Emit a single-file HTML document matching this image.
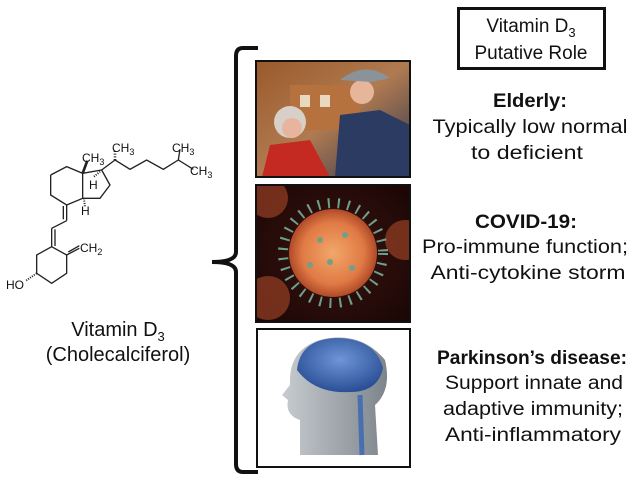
<!DOCTYPE html>
<html><head><meta charset="utf-8"><style>
html,body{margin:0;padding:0;background:#fff;}
svg{display:block;}
text{font-family:"Liberation Sans",sans-serif;fill:#111;}
</style></head><body>
<svg width="639" height="484" viewBox="0 0 639 484" xmlns="http://www.w3.org/2000/svg">
<defs>
<radialGradient id="vir" cx="50%" cy="50%" r="50%"><stop offset="0" stop-color="#f2a76a"/><stop offset="0.7" stop-color="#e07a45"/><stop offset="1" stop-color="#b04a28"/></radialGradient>
<radialGradient id="bg2" cx="50%" cy="50%" r="70%"><stop offset="0" stop-color="#3a1410"/><stop offset="1" stop-color="#1a0605"/></radialGradient>
<linearGradient id="p1" x1="0" y1="0" x2="1" y2="1"><stop offset="0" stop-color="#9a5a2a"/><stop offset="0.5" stop-color="#b07a50"/><stop offset="1" stop-color="#2b3550"/></linearGradient>
<radialGradient id="brain" cx="50%" cy="40%" r="60%"><stop offset="0" stop-color="#6f96d8"/><stop offset="1" stop-color="#2a4f96"/></radialGradient>
<linearGradient id="head" x1="0" y1="0" x2="1" y2="0"><stop offset="0" stop-color="#c8ccd0"/><stop offset="1" stop-color="#7d858c"/></linearGradient>
<clipPath id="c1"><rect x="256" y="61" width="154" height="116"/></clipPath>
<clipPath id="c2"><rect x="256" y="185" width="154" height="137"/></clipPath>
</defs>

<!-- Molecule -->
<g transform="translate(0,120) scale(0.3333)" stroke="#222" stroke-width="4" fill="none">
<polyline points="152,165 200,140 248,160 248,235 200,255 152,225 152,165"/>
<polyline points="248,160 305,150 330,195 300,235 248,235"/>
<line x1="248" y1="160" x2="262" y2="122" stroke-width="8"/>
<line x1="305" y1="150" x2="345" y2="120"/>
<polyline points="345,120 390,148 440,120 490,148 535,120 580,148"/>
<line x1="535" y1="120" x2="540" y2="88"/>
<line x1="345" y1="120" x2="345" y2="90" stroke-dasharray="3,5" stroke-width="8"/>
<line x1="282" y1="170" x2="300" y2="155" stroke-dasharray="3,4" stroke-width="6"/>
<line x1="252" y1="235" x2="255" y2="262" stroke-dasharray="3,4" stroke-width="6"/>
<line x1="200" y1="255" x2="200" y2="302"/>
<line x1="190" y1="258" x2="190" y2="298"/>
<line x1="200" y1="302" x2="155" y2="325"/>
<line x1="155" y1="325" x2="155" y2="380"/>
<line x1="165" y1="328" x2="165" y2="378"/>
<polyline points="155,380 200,405 200,460 155,490 110,460 110,405 155,380"/>
<line x1="200" y1="405" x2="238" y2="385"/>
<line x1="205" y1="396" x2="238" y2="377"/>
<line x1="110" y1="460" x2="78" y2="482" stroke-dasharray="3,4" stroke-width="6"/>
</g>
<g font-size="12">
<text x="82" y="162">CH<tspan font-size="9" dy="3">3</tspan></text>
<text x="112" y="152">CH<tspan font-size="9" dy="3">3</tspan></text>
<text x="172" y="152">CH<tspan font-size="9" dy="3">3</tspan></text>
<text x="190" y="175">CH<tspan font-size="9" dy="3">3</tspan></text>
<text x="89" y="189">H</text>
<text x="81" y="215">H</text>
<text x="80" y="252">CH<tspan font-size="9" dy="3">2</tspan></text>
<text x="6" y="289">HO</text>
</g>
<text x="118" y="336" font-size="20" text-anchor="middle">Vitamin D<tspan font-size="13" dy="5">3</tspan></text>
<text x="118" y="361" font-size="20" text-anchor="middle">(Cholecalciferol)</text>

<!-- Brace -->
<path d="M258,48 L243,48 Q236,48 236,56 L236,252 Q236,262 212,262 Q236,262 236,272 L236,464 Q236,472 243,472 L258,472" stroke="#111" stroke-width="4" fill="none"/>

<!-- Photo 1 -->
<g clip-path="url(#c1)">
<rect x="256" y="61" width="154" height="116" fill="url(#p1)"/>
<rect x="290" y="85" width="70" height="45" fill="#b5713e"/>
<rect x="300" y="95" width="10" height="12" fill="#e8d8c0"/>
<rect x="320" y="95" width="10" height="12" fill="#e8d8c0"/>
<circle cx="290" cy="122" r="16" fill="#d8cfc8"/>
<circle cx="292" cy="128" r="10" fill="#e7b59d"/>
<path d="M262,177 L270,145 L310,140 L330,177 Z" fill="#c42a22"/>
<path d="M335,177 L340,115 L380,110 L410,125 L410,177 Z" fill="#2c3b62"/>
<circle cx="362" cy="92" r="12" fill="#e6b59a"/>
<path d="M340,80 Q365,60 390,78 L372,82 Z" fill="#8a929a"/>
</g>
<rect x="256" y="61" width="154" height="116" fill="none" stroke="#111" stroke-width="2"/>

<!-- Photo 2 -->
<g clip-path="url(#c2)">
<rect x="256" y="185" width="154" height="137" fill="url(#bg2)"/>
<circle cx="268" cy="198" r="20" fill="#8a3a22" opacity="0.8"/>
<circle cx="405" cy="240" r="20" fill="#8a3a22" opacity="0.8"/>
<circle cx="268" cy="298" r="22" fill="#8a3a22" opacity="0.8"/>
<circle cx="333" cy="253" r="50" fill="none" stroke="#6fa08a" stroke-dasharray="2,8" stroke-width="10"/>
<circle cx="333" cy="253" r="44" fill="url(#vir)"/>
<g fill="#6fa08a"><circle cx="320" cy="240" r="3"/><circle cx="345" cy="235" r="3"/><circle cx="330" cy="262" r="3"/><circle cx="352" cy="268" r="3"/><circle cx="310" cy="265" r="3"/></g>
</g>
<rect x="256" y="185" width="154" height="137" fill="none" stroke="#111" stroke-width="2"/>

<!-- Photo 3 -->
<rect x="257" y="329" width="153" height="138" fill="#fff" stroke="#111" stroke-width="2"/>
<path d="M300,455 L300,420 Q285,415 288,400 L282,395 L290,385 Q288,350 320,340 Q360,330 385,360 Q392,390 375,405 L378,455 Z" fill="url(#head)"/>
<path d="M297,370 Q300,340 335,338 Q375,338 383,368 Q378,392 350,392 Q315,394 297,370 Z" fill="url(#brain)"/>
<path d="M360,395 L362,455" stroke="#4a6fb0" stroke-width="5"/>

<!-- Title box -->
<rect x="458.5" y="8.5" width="146" height="60" fill="none" stroke="#111" stroke-width="3"/>
<text x="531" y="32" font-size="19" text-anchor="middle">Vitamin D<tspan font-size="13" dy="5">3</tspan></text>
<text x="531" y="59" font-size="19" text-anchor="middle">Putative Role</text>

<g font-size="19" text-anchor="middle">
<text x="530" y="107" font-weight="bold" textLength="74" lengthAdjust="spacingAndGlyphs">Elderly:</text>
<text x="530" y="133" textLength="195" lengthAdjust="spacingAndGlyphs">Typically low normal</text>
<text x="527" y="159" textLength="112" lengthAdjust="spacingAndGlyphs">to deficient</text>
<text x="526" y="228" font-weight="bold" textLength="102" lengthAdjust="spacingAndGlyphs">COVID-19:</text>
<text x="525" y="253" textLength="206" lengthAdjust="spacingAndGlyphs">Pro-immune function;</text>
<text x="528" y="279" textLength="195" lengthAdjust="spacingAndGlyphs">Anti-cytokine storm</text>
<text x="532" y="364" font-weight="bold" textLength="190" lengthAdjust="spacingAndGlyphs">Parkinson’s disease:</text>
<text x="534" y="389" textLength="178" lengthAdjust="spacingAndGlyphs">Support innate and</text>
<text x="533" y="415" textLength="180" lengthAdjust="spacingAndGlyphs">adaptive immunity;</text>
<text x="533" y="441" textLength="176" lengthAdjust="spacingAndGlyphs">Anti-inflammatory</text>
</g>
</svg>
</body></html>
